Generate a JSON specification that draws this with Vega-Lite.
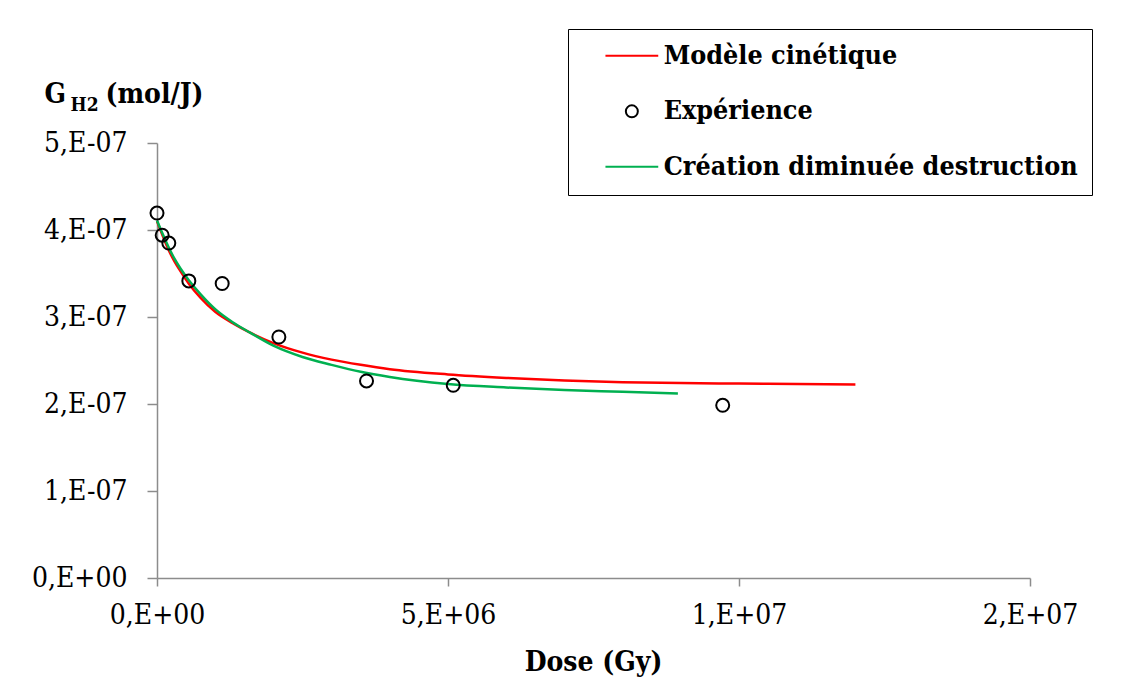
{
  "$schema": "https://vega.github.io/schema/vega-lite/v6.json",
  "autosize": {"type": "none"},
  "width": 873,
  "height": 435,
  "padding": {"left": 157, "top": 143, "right": 102, "bottom": 112},
  "background": "white",
  "config": {
    "view": {"stroke": null},
    "font": "DejaVu Serif Condensed",
    "axis": {
      "grid": false,
      "domainColor": "#8c8c8c",
      "domainWidth": 1.5,
      "tickColor": "#8c8c8c",
      "tickWidth": 1.5,
      "labelFont": "DejaVu Serif Condensed",
      "labelFontSize": 28,
      "labelColor": "#000000",
      "labelFlush": false,
      "titleFont": "DejaVu Serif Condensed",
      "titleFontWeight": "bold",
      "titleFontSize": 28,
      "titleColor": "#000000"
    },
    "legend": {
      "orient": "none",
      "legendX": 411,
      "legendY": -114,
      "labelFont": "DejaVu Serif Condensed",
      "labelFontSize": 26.7,
      "labelFontWeight": "bold",
      "labelColor": "#000000",
      "labelLimit": 1000,
      "strokeColor": "#000000",
      "fillColor": "#ffffff",
      "padding": 13.5,
      "rowPadding": 27.5,
      "symbolSize": 144,
      "symbolStrokeWidth": 2,
      "symbolOffset": 37,
      "labelOffset": 18.5
    }
  },
  "datasets": {
    "courbes": [
      {"serie": "Modèle cinétique", "dose": 0, "g": 4.10e-7},
      {"serie": "Modèle cinétique", "dose": 100000, "g": 3.93e-7},
      {"serie": "Modèle cinétique", "dose": 200000, "g": 3.77e-7},
      {"serie": "Modèle cinétique", "dose": 300000, "g": 3.64e-7},
      {"serie": "Modèle cinétique", "dose": 400000, "g": 3.53e-7},
      {"serie": "Modèle cinétique", "dose": 550000, "g": 3.38e-7},
      {"serie": "Modèle cinétique", "dose": 750000, "g": 3.22e-7},
      {"serie": "Modèle cinétique", "dose": 1000000, "g": 3.06e-7},
      {"serie": "Modèle cinétique", "dose": 1300000, "g": 2.93e-7},
      {"serie": "Modèle cinétique", "dose": 1600000, "g": 2.82e-7},
      {"serie": "Modèle cinétique", "dose": 2000000, "g": 2.70e-7},
      {"serie": "Modèle cinétique", "dose": 2500000, "g": 2.59e-7},
      {"serie": "Modèle cinétique", "dose": 3000000, "g": 2.51e-7},
      {"serie": "Modèle cinétique", "dose": 3500000, "g": 2.45e-7},
      {"serie": "Modèle cinétique", "dose": 4000000, "g": 2.40e-7},
      {"serie": "Modèle cinétique", "dose": 5000000, "g": 2.34e-7},
      {"serie": "Modèle cinétique", "dose": 6000000, "g": 2.30e-7},
      {"serie": "Modèle cinétique", "dose": 7000000, "g": 2.27e-7},
      {"serie": "Modèle cinétique", "dose": 8000000, "g": 2.25e-7},
      {"serie": "Modèle cinétique", "dose": 9000000, "g": 2.24e-7},
      {"serie": "Modèle cinétique", "dose": 10000000, "g": 2.235e-7},
      {"serie": "Modèle cinétique", "dose": 11000000, "g": 2.23e-7},
      {"serie": "Modèle cinétique", "dose": 12000000, "g": 2.225e-7},
      {"serie": "Création diminuée destruction", "dose": 0, "g": 4.11e-7},
      {"serie": "Création diminuée destruction", "dose": 100000, "g": 3.95e-7},
      {"serie": "Création diminuée destruction", "dose": 200000, "g": 3.80e-7},
      {"serie": "Création diminuée destruction", "dose": 300000, "g": 3.67e-7},
      {"serie": "Création diminuée destruction", "dose": 400000, "g": 3.56e-7},
      {"serie": "Création diminuée destruction", "dose": 550000, "g": 3.42e-7},
      {"serie": "Création diminuée destruction", "dose": 750000, "g": 3.26e-7},
      {"serie": "Création diminuée destruction", "dose": 1000000, "g": 3.09e-7},
      {"serie": "Création diminuée destruction", "dose": 1300000, "g": 2.94e-7},
      {"serie": "Création diminuée destruction", "dose": 1600000, "g": 2.82e-7},
      {"serie": "Création diminuée destruction", "dose": 2000000, "g": 2.67e-7},
      {"serie": "Création diminuée destruction", "dose": 2500000, "g": 2.54e-7},
      {"serie": "Création diminuée destruction", "dose": 3000000, "g": 2.45e-7},
      {"serie": "Création diminuée destruction", "dose": 3500000, "g": 2.37e-7},
      {"serie": "Création diminuée destruction", "dose": 4000000, "g": 2.31e-7},
      {"serie": "Création diminuée destruction", "dose": 5000000, "g": 2.23e-7},
      {"serie": "Création diminuée destruction", "dose": 6000000, "g": 2.19e-7},
      {"serie": "Création diminuée destruction", "dose": 7000000, "g": 2.16e-7},
      {"serie": "Création diminuée destruction", "dose": 8000000, "g": 2.14e-7},
      {"serie": "Création diminuée destruction", "dose": 8950000, "g": 2.12e-7}
    ],
    "mesures": [
      {"serie": "Expérience", "dose": 0, "g": 4.195e-7},
      {"serie": "Expérience", "dose": 89000, "g": 3.94e-7},
      {"serie": "Expérience", "dose": 203000, "g": 3.85e-7},
      {"serie": "Expérience", "dose": 547000, "g": 3.415e-7},
      {"serie": "Expérience", "dose": 1120000, "g": 3.385e-7},
      {"serie": "Expérience", "dose": 2094000, "g": 2.77e-7},
      {"serie": "Expérience", "dose": 3600000, "g": 2.265e-7},
      {"serie": "Expérience", "dose": 5090000, "g": 2.215e-7},
      {"serie": "Expérience", "dose": 9720000, "g": 1.985e-7}
    ]
  },
  "resolve": {"axis": {"x": "independent", "y": "independent"}},
  "layer": [
    {
      "data": {"name": "courbes"},
      "mark": {"type": "line", "strokeWidth": 2.5, "interpolate": "monotone"},
      "encoding": {
        "x": {
          "field": "dose", "type": "quantitative",
          "scale": {"domain": [0, 15000000], "nice": false, "zero": true},
          "axis": {
            "orient": "bottom",
            "values": [0, 5000000, 10000000, 15000000],
            "tickSize": 8,
            "labelPadding": 15,
            "labelExpr": "datum.value == 0 ? '0,E+00' : (datum.value < 10000000 ? format(datum.value/1000000, '.0f') + ',E+06' : format(datum.value/10000000, '.0f') + ',E+07')",
            "title": "Dose (Gy)",
            "titleX": 436,
            "titleY": 92,
            "titleBaseline": "alphabetic"
          }
        },
        "y": {
          "field": "g", "type": "quantitative",
          "scale": {"domain": [0, 5e-7], "nice": false},
          "axis": {
            "orient": "left",
            "values": [0, 1e-7, 2e-7, 3e-7, 4e-7, 5e-7],
            "tickSize": 10,
            "labelPadding": 20,
            "labelExpr": "datum.value == 0 ? '0,E+00' : format(datum.value*10000000, '.0f') + ',E-07'",
            "title": "G",
            "titleAngle": 0,
            "titleAlign": "left",
            "titleBaseline": "alphabetic",
            "titleX": -113,
            "titleY": -41
          }
        },
        "color": {
          "field": "serie", "type": "nominal",
          "scale": {
            "domain": ["Modèle cinétique", "Expérience", "Création diminuée destruction"],
            "range": ["#ff0000", "#000000", "#00b050"]
          },
          "legend": {"title": null}
        }
      }
    },
    {
      "data": {"name": "mesures"},
      "mark": {"type": "point", "filled": false, "size": 169, "strokeWidth": 2, "opacity": 1},
      "encoding": {
        "x": {
          "field": "dose", "type": "quantitative",
          "axis": {
            "orient": "top",
            "domain": false, "ticks": false, "labels": false,
            "title": "(mol/J)",
            "titleAngle": 0,
            "titleAlign": "left",
            "titleBaseline": "alphabetic",
            "titleX": -52,
            "titleY": -41
          }
        },
        "y": {
          "field": "g", "type": "quantitative",
          "axis": {
            "orient": "right",
            "domain": false, "ticks": false, "labels": false,
            "title": "H2",
            "titleFontSize": 19,
            "titleAngle": 0,
            "titleAlign": "left",
            "titleBaseline": "alphabetic",
            "titleX": -960,
            "titleY": -33
          }
        },
        "color": {"field": "serie", "type": "nominal", "legend": {"title": null}},
        "shape": {
          "field": "serie", "type": "nominal",
          "scale": {
            "domain": ["Modèle cinétique", "Expérience", "Création diminuée destruction"],
            "range": ["M-4.4,0H4.4", "circle", "M-4.4,0H4.4"]
          },
          "legend": {"title": null}
        }
      }
    }
  ]
}
